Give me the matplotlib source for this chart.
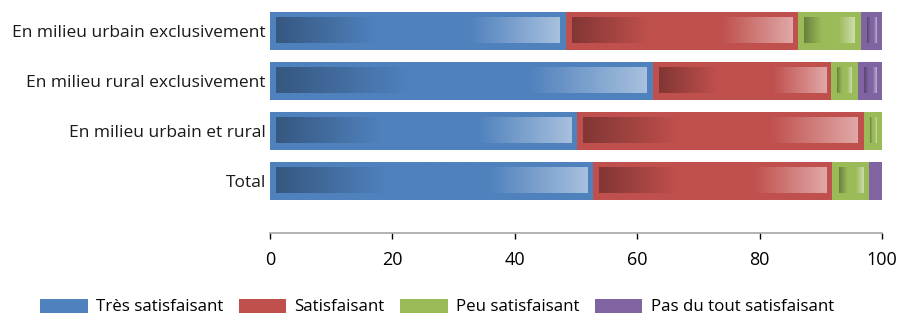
import numpy as np
import matplotlib
matplotlib.use('Agg')
import matplotlib.pyplot as plt
from matplotlib.colors import to_rgb
from matplotlib.patches import Patch

plt.rcParams['font.family'] = ['Open Sans', 'DejaVu Sans']

# data (percentages)
categories = ['En milieu urbain exclusivement', 'En milieu rural exclusivement',
              'En milieu urbain et rural', 'Total']
tres = [48.3, 62.5, 50.2, 52.8]
satis = [38.0, 29.2, 46.8, 39.1]
peu = [10.2, 4.3, 3.0, 5.9]
pas = [3.5, 4.0, 0.0, 2.2]
series_names = ['Très satisfaisant', 'Satisfaisant', 'Peu satisfaisant', 'Pas du tout satisfaisant']
colors = ['#4f81bd', '#c0504d', '#9bbb59', '#8064a2']


def gradient_row(color, n=200):
    # dark -> base -> base -> light, like the office "bevel" fill
    base = np.array(to_rgb(color))
    dark = base * 0.68
    light = base + (1 - base) * 0.5
    stops = [0.0, 0.35, 0.68, 1.0]
    cols = [dark, base, base, light]
    t = np.linspace(0, 1, n)
    row = np.stack([np.interp(t, stops, [c[i] for c in cols]) for i in range(3)], axis=-1)
    return row[np.newaxis, :, :]


fig = plt.figure(figsize=(9.04, 3.18), dpi=100)
ax = fig.add_axes([270 / 904, 1 - 233 / 318, 612 / 904, 227 / 318])

y = np.arange(len(categories))
h = 0.76
values = [tres, satis, peu, pas]
left = np.zeros(len(categories))
for vals, col in zip(values, colors):
    vals = np.array(vals)
    ax.barh(y, vals, left=left, height=h, color=col, edgecolor='none', zorder=2)
    for yi, l, w in zip(y, left, vals):
        if w <= 2.6:
            continue  # too thin for the inner gradient
        x0, x1 = l + 1.0, l + w - 0.9
        y0, y1 = yi - h / 2 + 0.11, yi + h / 2 - 0.14
        ax.imshow(gradient_row(col), extent=(x0, x1, y1, y0), aspect='auto',
                  interpolation='bilinear', zorder=3)
    left = left + vals

ax.set_xlim(0, 100)
ax.set_ylim(4.04, -0.5)
ax.set_yticks(y)
ax.set_yticklabels(categories, fontsize=12.5, color='#1a1a1a')
ax.set_xticks([0, 20, 40, 60, 80, 100])
ax.tick_params(axis='y', length=0, pad=3)
ax.tick_params(axis='x', direction='out', length=4, width=1, colors='black',
               labelsize=13, pad=9)
for s in ['top', 'right', 'left']:
    ax.spines[s].set_visible(False)
ax.spines['bottom'].set_color('#a6a6a6')
ax.spines['bottom'].set_linewidth(1.2)

handles = [Patch(facecolor=c, edgecolor='none') for c in colors]
fig.legend(handles, series_names, loc='center', bbox_to_anchor=(437 / 904, 1 - 307 / 318),
           ncol=4, frameon=False, fontsize=12.2, handlelength=2.8, handleheight=0.9,
           handletextpad=0.5, columnspacing=0.9)

fig.savefig('out.png', dpi=100)
